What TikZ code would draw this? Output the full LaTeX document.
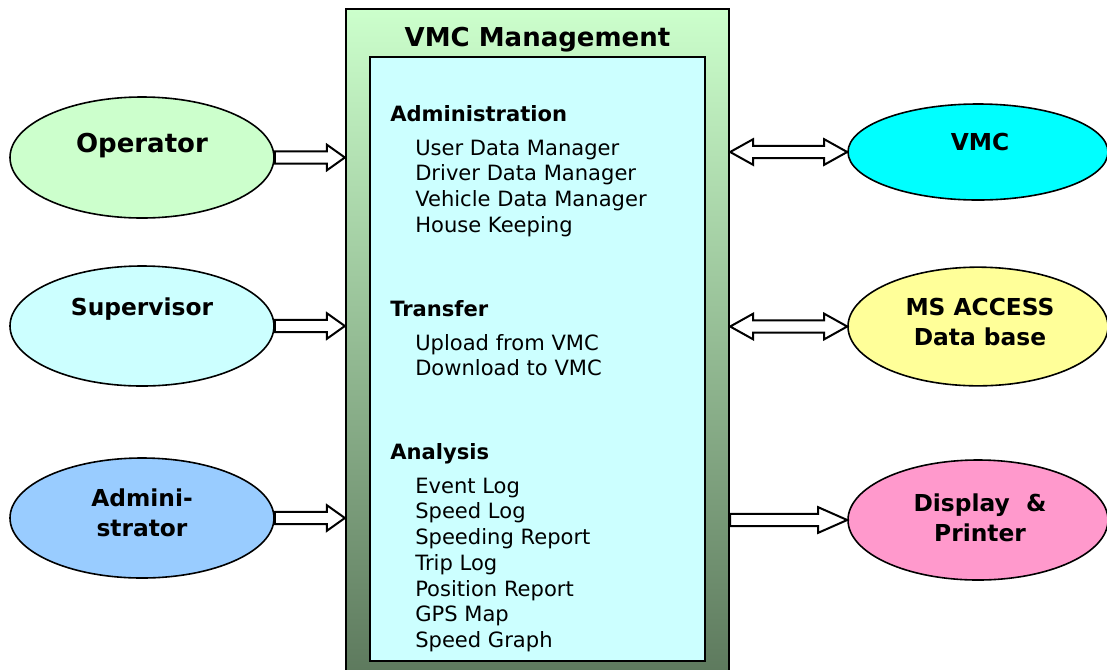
\documentclass[tikz,border=0pt]{standalone}
\usepackage{fontspec}
\setmainfont{DejaVu Sans}
\usetikzlibrary{positioning,shapes,calc}
\definecolor{lightgreen}{RGB}{204,255,204}
\definecolor{palecyan}{RGB}{204,255,255}
\definecolor{adminblue}{RGB}{153,204,255}
\definecolor{vmccyan}{RGB}{0,255,255}
\definecolor{dbyellow}{RGB}{255,255,153}
\definecolor{printpink}{RGB}{255,153,204}
\definecolor{darkgreen}{RGB}{92,120,92}

% hollow block arrow: #1 head length, #2 tail, #3 tip
\newcommand{\fatarrow}[3]{%
  \draw[fatline] let \p1=(#2), \p2=(#3) in
    (\x1,\y2+4.6pt) -- (\x2-#1,\y2+4.6pt) -- (\x2-#1,\y2+9.6pt) -- (\x2,\y2)
    -- (\x2-#1,\y2-9.6pt) -- (\x2-#1,\y2-4.6pt) -- (\x1,\y2-4.6pt) -- cycle;}
% same with a head on both ends
\newcommand{\twinarrow}[3]{%
  \draw[fatline] let \p1=(#2), \p2=(#3) in
    (\x1,\y2) -- (\x1+#1,\y2+9.6pt) -- (\x1+#1,\y2+4.6pt) -- (\x2-#1,\y2+4.6pt)
    -- (\x2-#1,\y2+9.6pt) -- (\x2,\y2) -- (\x2-#1,\y2-9.6pt) -- (\x2-#1,\y2-4.6pt)
    -- (\x1+#1,\y2-4.6pt) -- (\x1+#1,\y2-9.6pt) -- cycle;}

\begin{document}
\begin{tikzpicture}[
    x=0.75pt, y=-0.75pt,
    actor/.style={ellipse, draw, line width=1.2pt, inner sep=0pt},
    actortext/.style={anchor=base, inner sep=0pt, align=center,
      font=\fontsize{17.5}{22}\selectfont\bfseries},
    head/.style={anchor=base west, inner sep=0pt, font=\fontsize{15.8}{19}\selectfont\bfseries},
    item/.style={anchor=base west, inner sep=0pt, font=\fontsize{15.8}{19}\selectfont},
    fatline/.style={draw, fill=white, line width=1.5pt, line join=miter}
]
\useasboundingbox (0,0) rectangle (1107,669);

% Management box
\node[draw, line width=1.7pt, top color=lightgreen, bottom color=darkgreen,
  minimum width=287.25pt, minimum height=504pt] (mgmt) at (537.5,345) {};
\node[draw, line width=1.5pt, fill=palecyan,
  minimum width=251.25pt, minimum height=453pt] (inner) at (537.5,359) {};
\node[anchor=base, inner sep=0pt, font=\fontsize{19.5}{23}\selectfont\bfseries]
  (title) at (537.5,46.5) {VMC Management};

% Sections
\node[head] (admhead) at (390,121) {Administration};
\foreach \txt [count=\i] in {User Data Manager, Driver Data Manager,
    Vehicle Data Manager, House Keeping}
  \node[item] (adm-\i) at (415,{155+(\i-1)*25.75}) {\txt};

\node[head] (trfhead) at (390,316) {Transfer};
\foreach \txt [count=\i] in {Upload from VMC, Download to VMC}
  \node[item] (trf-\i) at (415,{350+(\i-1)*25.75}) {\txt};

\node[head] (anahead) at (390,459) {Analysis};
\foreach \txt [count=\i] in {Event Log, Speed Log, Speeding Report, Trip Log,
    Position Report, GPS Map, Speed Graph}
  \node[item] (ana-\i) at (415,{493+(\i-1)*25.75}) {\txt};

% Users
\node[actor, fill=lightgreen, minimum width=198pt, minimum height=90.75pt] (op) at (142,157.5) {};
\node[actortext, font=\fontsize{19.5}{23}\selectfont\bfseries] (op-text) at (142,152) {Operator};
\node[actor, fill=palecyan, minimum width=198pt, minimum height=90pt] (sup) at (142,326) {};
\node[actortext] (sup-text) at (142,315) {Supervisor};
\node[actor, fill=adminblue, minimum width=198pt, minimum height=90pt] (adm) at (142,518) {};
\node[actortext] (adm-text) at (142,536) {Admini-\\strator};

% Peripherals
\node[actor, fill=vmccyan, minimum width=195pt, minimum height=72pt] (vmc) at (978,152) {};
\node[actortext] (vmc-text) at (980,150) {VMC};
\node[actor, fill=dbyellow, minimum width=195pt, minimum height=89pt] (db) at (978,326.5) {};
\node[actortext] (db-text) at (980,345) {MS ACCESS\\Data base};
\node[actor, fill=printpink, minimum width=195pt, minimum height=90pt] (disp) at (978,520) {};
\node[actortext] (disp-text) at (980,541) {Display~~\&\\Printer};

% Arrows
\fatarrow{13.5pt}{op.east}{mgmt.west |- op.east}
\fatarrow{13.5pt}{sup.east}{mgmt.west |- sup.east}
\fatarrow{13.5pt}{adm.east}{mgmt.west |- adm.east}
\twinarrow{17.25pt}{mgmt.east |- vmc.west}{vmc.west}
\twinarrow{17.25pt}{mgmt.east |- db.west}{db.west}
\fatarrow{21.75pt}{mgmt.east |- disp.west}{disp.west}

\end{tikzpicture}
\end{document}
